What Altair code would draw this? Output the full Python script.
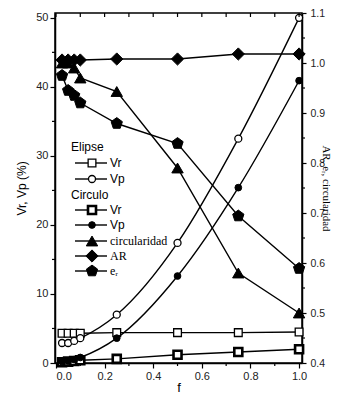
import altair as alt
import pandas as pd

# ---- data ----
f = [0.025, 0.05, 0.075, 0.1, 0.25, 0.5, 0.75, 1.0]
elipse_vr = [4.3, 4.3, 4.3, 4.3, 4.4, 4.4, 4.4, 4.5]
elipse_vp = [2.9, 2.9, 3.2, 3.6, 7.0, 17.4, 32.5, 50.0]
circulo_vr = [0.1, 0.2, 0.3, 0.4, 0.6, 1.2, 1.6, 2.0]
circulo_vp = [0.2, 0.3, 0.5, 0.8, 3.6, 12.6, 25.4, 40.9]
circularidad = [1.0, 1.0, 0.99, 0.97, 0.943, 0.79, 0.58, 0.5]
ar = [1.006, 1.006, 1.006, 1.006, 1.008, 1.008, 1.018, 1.018]
e_r = [0.975, 0.945, 0.935, 0.92, 0.879, 0.839, 0.694, 0.589]

x_ticks = [0.0, 0.2, 0.4, 0.6, 0.8, 1.0]
x_minor = [0.1, 0.3, 0.5, 0.7, 0.9]
x_top = [0.0, 0.1, 0.2, 0.3, 0.4, 0.5, 0.6, 0.7, 0.8, 0.9, 1.0]
yl_ticks = [0, 10, 20, 30, 40, 50]
yl_minor = [5, 15, 25, 35, 45]
yr_ticks = [0.4, 0.5, 0.6, 0.7, 0.8, 0.9, 1.0, 1.1]
yr_minor = [0.45, 0.55, 0.65, 0.75, 0.85, 0.95, 1.05]

legend_groups = ["Elipse", "Circulo"]
legend_labels = ["Vr", "Vp", "Vr", "Vp", "circularidad", "AR", "eᵣ"]

PENT = "M0,-1L0.951,-0.309L0.588,0.809L-0.588,0.809L-0.951,-0.309Z"
SANS = "Liberation Sans"
SERIF = "Liberation Serif"

W, H = 247, 350

xscale = alt.Scale(domain=[-0.004, 1.012], nice=False, zero=False)
ylscale = alt.Scale(domain=[0, 50.7], nice=False, zero=False)
yrscale = alt.Scale(domain=[0.4, 1.1], nice=False, zero=False)

X = alt.X("x:Q", scale=xscale,
          axis=alt.Axis(values=x_ticks, format=".1f", title="f", tickSize=5,
                        labelPadding=2, titlePadding=0, titleFontSize=13,
                        titleFontWeight="normal", titleFont=SANS))
YL = alt.Y("y:Q", scale=ylscale,
           axis=alt.Axis(values=yl_ticks, title="Vr, Vp (%)", tickSize=5, labelPadding=2,
                         titlePadding=7, titleFontSize=12, titleFontWeight="normal",
                         titleFont=SANS))
YR = alt.Y("y:Q", scale=yrscale,
           axis=alt.Axis(orient="right", values=yr_ticks, format=".1f",
                         title="AR, eᵣ, circularidad", tickSize=4, labelPadding=4,
                         labelFontSize=10.5,
                         titlePadding=-4, titleFontSize=11, titleFontWeight="normal",
                         titleFont=SERIF))

styles = {
    "elipse_vr": dict(shape="square", size=60, fill="white", strokeWidth=1.3),
    "elipse_vp": dict(shape="circle", size=49, fill="white", strokeWidth=1.3),
    "circulo_vr": dict(shape="square", size=64, fill="white", strokeWidth=2.6),
    "circulo_vp": dict(shape="circle", size=45, fill="black", strokeWidth=1),
    "circularidad": dict(shape="triangle-up", size=130, fill="black", strokeWidth=1),
    "ar": dict(shape="diamond", size=150, fill="black", strokeWidth=1),
    "e_r": dict(shape=PENT, size=140, fill="black", strokeWidth=1),
}


def series(vals, key, yenc, interp="linear"):
    df = pd.DataFrame({"x": f, "y": vals})
    base = alt.Chart(df)
    line = base.mark_line(color="black", strokeWidth=1.4, interpolate=interp).encode(x=X, y=yenc)
    st = styles[key]
    pts = base.mark_point(shape=st["shape"], size=st["size"], filled=True, fill=st["fill"],
                          stroke="black", strokeWidth=st["strokeWidth"], opacity=1).encode(x=X, y=yenc)
    return [line, pts]


left_layers = []
left_layers += series(elipse_vr, "elipse_vr", YL)
left_layers += series(elipse_vp, "elipse_vp", YL, "monotone")
left_layers += series(circulo_vr, "circulo_vr", YL)
left_layers += series(circulo_vp, "circulo_vp", YL, "monotone")
left_layers.append(
    alt.Chart(pd.DataFrame({"y": yl_minor})).mark_rule(color="black", strokeWidth=1.2)
    .encode(y=YL, x=alt.value(-3), x2=alt.value(0)))
# x-axis minor ticks and top ticks, drawn on the shared x scale
left_layers.append(alt.Chart(pd.DataFrame({"x": x_top})).mark_rule(color="black", strokeWidth=1.2)
                   .encode(x=X, y=alt.value(0), y2=alt.value(4)))
left_layers.append(alt.Chart(pd.DataFrame({"x": x_minor})).mark_rule(color="black", strokeWidth=1.2)
                   .encode(x=X, y=alt.value(H), y2=alt.value(H + 3)))

right_layers = []
right_layers += series(circularidad, "circularidad", YR)
right_layers += series(ar, "ar", YR)
right_layers += series(e_r, "e_r", YR)
right_layers.append(
    alt.Chart(pd.DataFrame({"y": yr_minor})).mark_rule(color="black", strokeWidth=1.2)
    .encode(y=YR, x=alt.value(W), x2=alt.value(W + 3)))

left = alt.layer(*left_layers)
right = alt.layer(*right_layers)

extra = []
# ---- legend ----
keys = ["elipse_vr", "elipse_vp", "circulo_vr", "circulo_vp", "circularidad", "ar", "e_r"]
fonts = [SANS, SANS, SANS, SANS, SERIF, SERIF, SERIF]
rows_y = [150, 166, 197, 212, 228, 243, 258]
header_y = [134, 182]
for g, hy in zip(legend_groups, header_y):
    extra.append(alt.Chart(pd.DataFrame({"t": [g]})).mark_text(
        align="left", baseline="middle", font=SANS, fontSize=12, color="black")
        .encode(text="t:N", x=alt.value(16), y=alt.value(hy)))
for lab, key, fnt, ry in zip(legend_labels, keys, fonts, rows_y):
    d = pd.DataFrame({"t": [lab]})
    st = styles[key]
    extra.append(alt.Chart(d).mark_rule(color="black", strokeWidth=1.4)
                 .encode(x=alt.value(20), x2=alt.value(52), y=alt.value(ry)))
    extra.append(alt.Chart(d).mark_point(shape=st["shape"], size=st["size"], filled=True,
                                         fill=st["fill"], stroke="black",
                                         strokeWidth=st["strokeWidth"], opacity=1)
                 .encode(x=alt.value(37), y=alt.value(ry)))
    extra.append(alt.Chart(d).mark_text(align="left", baseline="middle", font=fnt,
                                        fontSize=12, color="black")
                 .encode(text="t:N", x=alt.value(55), y=alt.value(ry)))

chart = alt.layer(left, right, *extra).resolve_scale(y="independent").properties(
    width=W, height=H, autosize="none",
    padding={"left": 47, "top": 5, "right": 31, "bottom": 30},
).configure_view(stroke="black", strokeWidth=1.5).configure_axis(
    grid=False, domainColor="black", domainWidth=1.5, tickColor="black", tickWidth=1.2,
    labelFont=SANS, labelFontSize=11, labelColor="#222", titleColor="black",
)

chart.save("out.html", embed_options={"renderer": "svg", "actions": False})
